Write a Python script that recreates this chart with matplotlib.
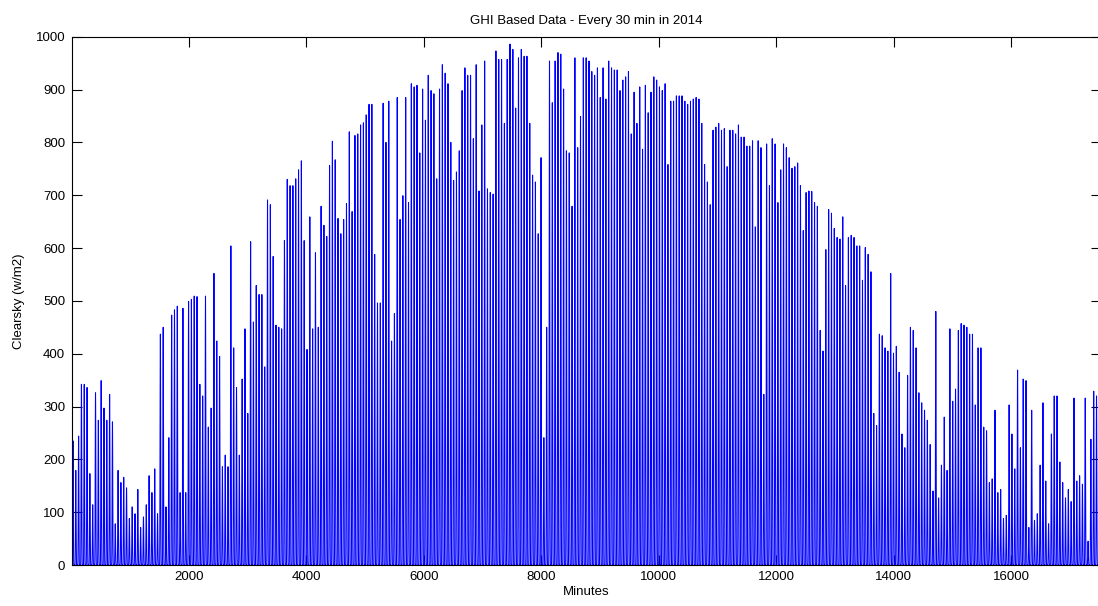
import numpy as np
import matplotlib
matplotlib.use("Agg")
import matplotlib.pyplot as plt

# peak clearsky value of each day (w/m2), Jan 1 .. Dec 31
DAY_PEAK = [
    235, 179, 244, 342, 342, 336, 173, 114, 326, 274, 349, 297, 274, 323, 271, 78, 179, 156, 166, 146,
    88, 110, 97, 143, 71, 91, 114, 169, 137, 182, 97, 437, 450, 110, 241, 473, 483, 490, 137, 486,
    137, 499, 503, 509, 508, 342, 320, 509, 261, 297, 552, 424, 395, 186, 208, 186, 604, 411, 336, 208,
    352,
    447, 287, 612, 460, 529, 512, 512, 375, 691, 682, 584, 454, 450, 447, 614, 730, 718, 718, 731, 748,
    765, 614, 408, 659, 447, 591, 450, 679, 643, 622, 756, 802, 767, 656, 627, 654, 684, 820, 669, 813,
    816, 833, 837, 852, 872, 872, 588, 496, 496, 874, 800, 878, 424, 476, 885, 654, 699, 885, 686, 911,
    905, 908,
    780, 901, 842, 927, 898, 892, 731, 901, 947, 931, 911, 800, 728, 744, 784, 898, 941, 927, 927, 807,
    947, 708, 833, 954, 712, 705, 702, 973, 957, 957, 836, 957, 986, 976, 865, 960, 976, 963, 963, 836,
    738, 725, 627, 771, 241, 450, 954, 875, 954, 970, 967, 901, 784, 780, 679, 960, 790, 849, 960, 960,
    954, 934,
    927, 941, 885, 941, 882, 954, 941, 937, 937, 898, 918, 924, 934, 816, 895, 836, 905, 787, 908, 856,
    895, 924, 918, 905, 898, 911, 758, 878, 878, 888, 888, 888, 878, 872, 878, 882, 885, 882, 836, 758,
    725, 682, 823, 829, 836, 823, 826, 754, 823, 823, 816, 833, 810, 810, 793, 793, 803,
    640, 803, 790, 323, 797, 718, 807, 797, 686, 748, 797, 790, 771, 751, 754, 761, 718, 633, 705, 708,
    707, 686, 679, 444, 405, 597, 673, 666, 637, 620, 617, 659, 529, 620, 624, 620, 604, 604, 539, 601,
    588, 555, 287, 264, 437, 434, 411, 405, 552, 401, 414, 365, 248, 222, 359, 450, 444, 411, 326, 307,
    293, 274, 228, 140,
    480, 127, 189, 280, 179, 447, 310, 333, 444, 457, 454, 450, 437, 437, 303, 411, 411, 261, 254, 156,
    163, 293, 137, 143, 88, 94, 303, 248, 182, 369, 222, 352, 349, 71, 293, 84, 97, 189, 307, 159,
    78, 248, 320, 320, 195, 156, 127, 143, 120, 316, 159, 169, 153, 316, 45, 238, 329, 320, 336,
]

# typical day, share of the daily peak in each half hour (00:00 .. 23:30)
HALF_HOUR_PROFILE = [
    0, 0, 0, 0, 0, 0, 0, 0, 0, 0, 0,
    0.01, 0.03, 0.07, 0.13, 0.21, 0.30, 0.40, 0.51, 0.62, 0.73, 0.83, 0.91, 0.97,
    1.00, 0.97, 0.91, 0.83, 0.73, 0.62, 0.51, 0.40, 0.30, 0.21, 0.13, 0.07, 0.03, 0.01,
    0, 0, 0, 0, 0, 0, 0, 0, 0, 0,
]

X_TICKS = [2000, 4000, 6000, 8000, 10000, 12000, 14000, 16000]
Y_TICKS = [0, 100, 200, 300, 400, 500, 600, 700, 800, 900, 1000]

plt.rcParams["font.family"] = ["Liberation Sans", "DejaVu Sans"]
plt.rcParams["path.simplify"] = False

clearsky = np.outer(DAY_PEAK, HALF_HOUR_PROFILE).ravel()
minutes = np.arange(1, clearsky.size + 1)

fig = plt.figure(figsize=(10.98, 6.06), dpi=100)
ax = fig.add_axes([71.5 / 1098, 41 / 606, 1029.2 / 1098, 528.3 / 606])

ax.plot(minutes, clearsky, color="#0000ff", linewidth=0.75)

ax.set_xlim(0, 17520)
ax.set_ylim(0, 1000)
ax.set_xticks(X_TICKS)
ax.set_yticks(Y_TICKS)
ax.tick_params(direction="in", length=7, width=0.8, top=True, right=True,
               labelsize=9.5, pad=4.5, colors="black")
for sp in ax.spines.values():
    sp.set_linewidth(0.8)

ax.set_title("GHI Based Data - Every 30 min in 2014", fontsize=9.5, pad=9)
ax.set_xlabel("Minutes", fontsize=9.5, labelpad=2)
ax.set_ylabel("Clearsky (w/m2)", fontsize=9.5, labelpad=8)

fig.savefig("out.png", dpi=100)
